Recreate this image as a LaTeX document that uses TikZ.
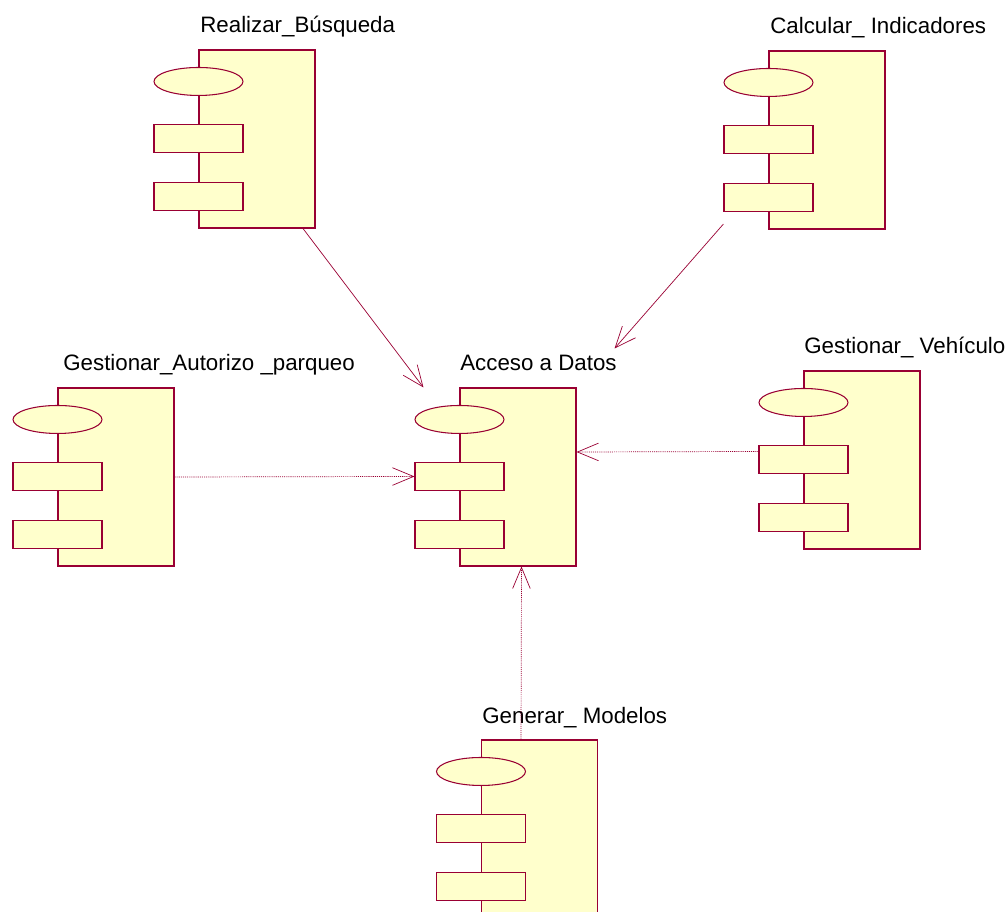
\documentclass[tikz,border=0pt]{standalone}
\usepackage{fontspec}
\setmainfont{Liberation Sans}
\usetikzlibrary{arrows.meta,shapes.geometric}
\definecolor{umlred}{RGB}{153,0,51}
\definecolor{umlfill}{RGB}{255,255,204}
\begin{document}
\begin{tikzpicture}[x=0.02cm,y=-0.02cm,
    comp/.style={draw=umlred, fill=umlfill, line width=0.6pt, minimum width=2.32cm, minimum height=3.56cm, inner sep=0pt},
    port/.style={draw=umlred, fill=umlfill, line width=0.6pt, minimum width=1.78cm, minimum height=0.56cm, inner sep=0pt},
    iface/.style={port, ellipse},
    lbl/.style={anchor=base west, inner sep=0pt, font=\fontsize{12.7}{15}\selectfont},
    dep/.style={umlred, line width=0.4pt, -{Straight Barb[length=12pt,width=10pt]}},
    depdot/.style={dep, dash pattern=on 0.6pt off 0.6pt}]
    \useasboundingbox (0,0) rectangle (1008,912);
    \clip (0,0) rectangle (1008,912);
    % Realizar_Busqueda
    \node[comp] (busq) at (257,139) {};
    \node[iface] (busqe) at ([yshift=-0.64cm]busq.north west) {};
    \node[port] (busqa) at ([yshift=-1.78cm]busq.north west) {};
    \node[port] (busqb) at ([yshift=-2.94cm]busq.north west) {};
    \node[lbl] (busql) at (200,33) {Realizar\_Búsqueda};
    % Calcular_Indicadores
    \node[comp] (calc) at (827,140) {};
    \node[iface] (calce) at ([yshift=-0.64cm]calc.north west) {};
    \node[port] (calca) at ([yshift=-1.78cm]calc.north west) {};
    \node[port] (calcb) at ([yshift=-2.94cm]calc.north west) {};
    \node[lbl] (calcl) at (770,34) {Calcular\_ Indicadores};
    % Gestionar_Autorizo_parqueo
    \node[comp] (autz) at (116,477) {};
    \node[iface] (autze) at ([yshift=-0.64cm]autz.north west) {};
    \node[port] (autza) at ([yshift=-1.78cm]autz.north west) {};
    \node[port] (autzb) at ([yshift=-2.94cm]autz.north west) {};
    \node[lbl] (autzl) at (63,371) {Gestionar\_Autorizo \_parqueo};
    % Acceso a Datos
    \node[comp] (acc) at (518,477) {};
    \node[iface] (acce) at ([yshift=-0.64cm]acc.north west) {};
    \node[port] (acca) at ([yshift=-1.78cm]acc.north west) {};
    \node[port] (accb) at ([yshift=-2.94cm]acc.north west) {};
    \node[lbl] (accl) at (460,371) {Acceso a Datos};
    % Gestionar_Vehiculo
    \node[comp] (veh) at (862,460) {};
    \node[iface] (vehe) at ([yshift=-0.64cm]veh.north west) {};
    \node[port] (veha) at ([yshift=-1.78cm]veh.north west) {};
    \node[port] (vehb) at ([yshift=-2.94cm]veh.north west) {};
    \node[lbl] (vehl) at (804,354) {Gestionar\_ Vehículo};
    % Generar_Modelos
    \node[comp] (gen) at (539.5,829) {};
    \node[iface] (gene) at ([yshift=-0.64cm]gen.north west) {};
    \node[port] (gena) at ([yshift=-1.78cm]gen.north west) {};
    \node[port] (genb) at ([yshift=-2.94cm]gen.north west) {};
    \node[lbl] (genl) at (482,723) {Generar\_ Modelos};
    % dependencies
    \draw[dep] ([xshift=0.92cm]busq.south) -- ([xshift=-0.72cm]acc.north west);
    \draw[dep] ([yshift=-0.24cm]calcb.south west) -- ([xshift=0.76cm,yshift=0.78cm]acc.north east);
    \draw[depdot] (autz.east) -- (acca.west);
    \draw[depdot] ([yshift=0.16cm]veha.west) -- ([yshift=0.5cm]acc.east);
    \draw[depdot] ([xshift=-0.37cm]gen.north) -- ([xshift=0.07cm]acc.south);
\end{tikzpicture}
\end{document}
